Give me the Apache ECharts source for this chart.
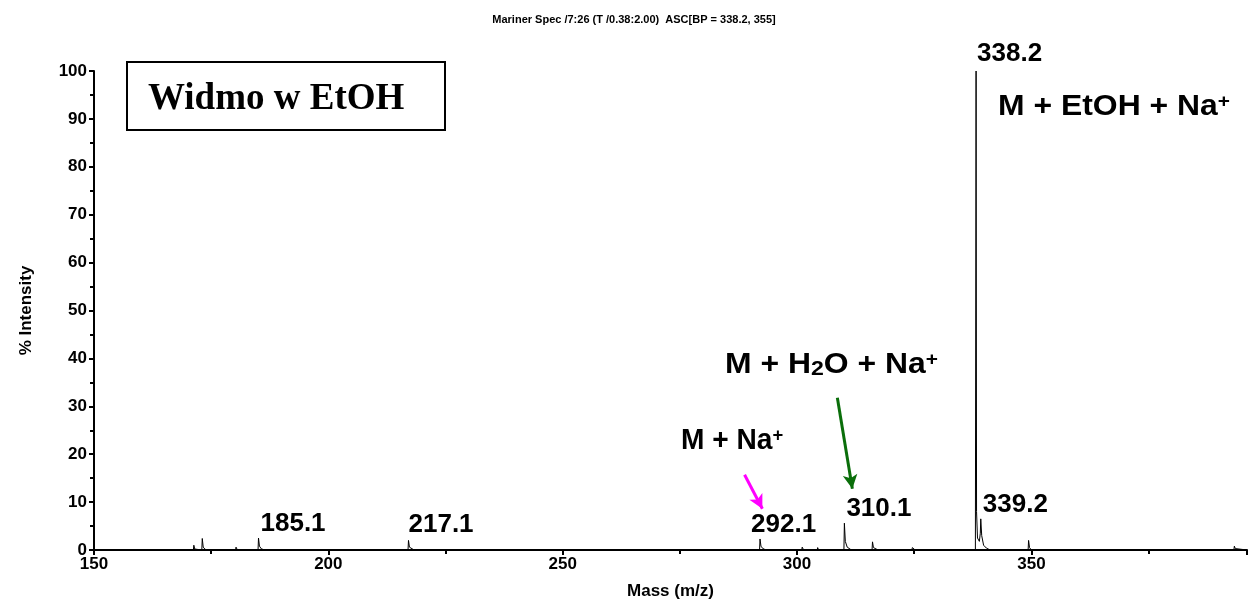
<!DOCTYPE html>
<html>
<head>
<meta charset="utf-8">
<script src="https://cdn.jsdelivr.net/npm/echarts@6/dist/echarts.min.js"></script>
<style>
html,body{margin:0;padding:0;background:#fff;}
#chart{width:1252px;height:599px;}
</style>
</head>
<body>
<div id="chart"></div>
<script>
// ---------- data ----------
const chartTitle = 'Mariner Spec /7:26 (T /0.38:2.00)  ASC[BP = 338.2, 355]';
const xAxisName = 'Mass (m/z)';
const yAxisName = '% Intensity';
const boxLabel = 'Widmo w EtOH';

// spectrum profile points (m/z, % intensity)
const spectrumMz = [
  150,
  171.2,171.3,171.5,171.8,
  173.0,173.1,173.3,173.7,174.3,
  180.2,180.3,180.6,
  185.0,185.1,185.3,185.7,186.4,
  215.4,215.5,215.7,
  217.0,217.1,217.3,217.7,218.3,
  239.2,239.3,239.5,
  261.7,261.8,262.0,
  288.3,288.4,288.6,
  292.0,292.1,292.3,292.7,293.4,
  298.3,298.4,298.6,
  301.0,301.1,301.4,
  303.2,303.3,303.5,
  304.3,304.4,304.6,
  305.3,305.4,305.7,
  310.0,310.1,310.3,310.7,311.6,
  316.0,316.1,316.3,316.7,317.3,
  318.8,318.9,319.1,
  324.5,324.6,324.9,325.2,
  338.05,338.2,338.3,338.5,338.9,339.1,339.2,339.4,339.8,340.4,341.2,
  349.3,349.4,349.6,350.0,
  370.0,370.1,370.3,
  393.2,393.3,393.5,393.9,
  396
];
const spectrumIntensity = [
  0,
  0,1.0,0.2,0,
  0,2.4,0.6,0.15,0,
  0,0.6,0,
  0,2.5,0.8,0.25,0,
  0,0.3,0,
  0,2.0,0.6,0.2,0,
  0,0.2,0,
  0,0.3,0,
  0,0.2,0,
  0,2.3,0.8,0.3,0,
  0,0.3,0,
  0,0.6,0,
  0,0.4,0,
  0,0.5,0,
  0,0.4,0,
  0,5.6,1.8,0.6,0,
  0,1.7,0.5,0.2,0,
  0,0.3,0,
  0,0.5,0.1,0,
  0,100,8,2.5,1.8,3.5,6.5,3,1,0.4,0,
  0,2.0,0.5,0,
  0,0.2,0,
  0,0.8,0.3,0,
  0
];

// labelled peaks
const peakLabelMz        = [185.1, 217.1, 292.1, 310.1, 338.2, 339.2];
const peakLabelIntensity = [2.5,   2.0,   2.3,   5.6,   100,   6.5];
const peakLabelText      = ['185.1','217.1','292.1','310.1','338.2','339.2'];

// arrows (data coordinates: start -> end)
const magentaArrow = [[288.8, 15.7], [292.6, 8.6]];
const greenArrow   = [[308.6, 31.8], [311.8, 12.8]];

// axis ticks
const xMin = 150, xMax = 396, xInterval = 50;
const yMin = 0, yMax = 100, yInterval = 10;

// ---------- styles ----------
const SANS = '"Liberation Sans", Arial, Helvetica, sans-serif';
const SERIF = '"Liberation Serif", "Times New Roman", serif';
const labelOffsets = [[2,-14],[0,-16],[-9,-14],[2,-14],[1,-17],[2,-14]];

const chart = echarts.init(document.getElementById('chart'), null, {renderer:'canvas'});
const spectrum = spectrumMz.map((m, i) => [m, spectrumIntensity[i]]);

chart.setOption({
  animation: false,
  backgroundColor: '#ffffff',
  title: {
    text: chartTitle, left: 629, top: 9, textAlign: 'center',
    textStyle: {fontFamily: SANS, fontSize: 11, fontWeight: 'bold', color: '#000'}
  },
  grid: {left: 94, right: 5, top: 71, bottom: 49, containLabel: false, outerBoundsMode: 'none'},
  xAxis: {
    type: 'value', min: xMin, max: xMax, interval: xInterval,
    name: xAxisName, nameLocation: 'middle', nameGap: 33,
    nameTextStyle: {fontFamily: SANS, fontSize: 17, fontWeight: 'bold', color: '#000'},
    axisLine: {lineStyle: {color: '#000', width: 2}},
    axisTick: {show: true, length: 5, lineStyle: {color: '#000', width: 2}},
    minorTick: {show: true, splitNumber: 2, length: 4, lineStyle: {color: '#000', width: 2}},
    axisLabel: {fontFamily: SANS, fontSize: 17, fontWeight: 'bold', color: '#000', margin: 6, showMaxLabel: false},
    splitLine: {show: false}
  },
  yAxis: {
    type: 'value', min: yMin, max: yMax, interval: yInterval,
    name: yAxisName, nameLocation: 'middle', nameGap: 59, nameRotate: 90,
    nameTextStyle: {fontFamily: SANS, fontSize: 17, fontWeight: 'bold', color: '#000'},
    axisLine: {show: true, lineStyle: {color: '#000', width: 2}},
    axisTick: {show: true, length: 5, lineStyle: {color: '#000', width: 2}},
    minorTick: {show: true, splitNumber: 2, length: 4, lineStyle: {color: '#000', width: 2}},
    axisLabel: {fontFamily: SANS, fontSize: 17, fontWeight: 'bold', color: '#000', margin: 7},
    splitLine: {show: false}
  },
  series: [{
    type: 'line', data: spectrum, showSymbol: false, symbol: 'none', sampling: false,
    lineStyle: {color: '#000', width: 1}, silent: true, z: 3,
    markLine: {
      silent: true, symbol: ['none', 'arrow'], symbolSize: [11, 14],
      label: {show: false},
      data: [
        [{coord: magentaArrow[0], lineStyle: {color: '#ff00ff', width: 3, type: 'solid'}},
         {coord: magentaArrow[1]}],
        [{coord: greenArrow[0], lineStyle: {color: '#0a6e0a', width: 3, type: 'solid'}},
         {coord: greenArrow[1]}]
      ]
    }
  }]
});

function buildGraphics() {
  const g = [];
  // peak labels anchored to peak tops
  peakLabelMz.forEach((m, i) => {
    const p = chart.convertToPixel({gridIndex: 0}, [m, peakLabelIntensity[i]]);
    g.push({
      type: 'text', x: p[0] + labelOffsets[i][0], y: p[1] + labelOffsets[i][1], z: 10,
      style: {text: peakLabelText[i], fontFamily: SANS, fontSize: 26, fontWeight: 'bold',
              fill: '#000', align: 'left', verticalAlign: 'middle'}
    });
  });
  const rich = {
    n: {fontFamily: SANS, fontSize: 29, fontWeight: 'bold', color: '#000'},
    sup: {fontFamily: SANS, fontSize: 19, fontWeight: 'bold', color: '#000', verticalAlign: 'top'},
    sub: {fontFamily: SANS, fontSize: 21, fontWeight: 'bold', color: '#000', verticalAlign: 'bottom', lineHeight: 10}
  };
  g.push({type: 'text', x: 998, y: 107, scaleX: 1.1, z: 10,
    style: {text: '{n|M + EtOH + Na}{sup|+}', rich: rich, align: 'left', verticalAlign: 'middle'}});
  g.push({type: 'text', x: 725, y: 365, scaleX: 1.1, z: 10,
    style: {text: '{n|M + H}{sub|2}{n|O + Na}{sup|+}', rich: rich, align: 'left', verticalAlign: 'middle'}});
  g.push({type: 'text', x: 681, y: 441, scaleX: 0.97, z: 10,
    style: {text: '{n|M + Na}{sup|+}', rich: rich, align: 'left', verticalAlign: 'middle'}});
  // boxed label
  g.push({type: 'rect', shape: {x: 127, y: 62, width: 318, height: 68}, z: 10,
    style: {fill: '#fff', stroke: '#000', lineWidth: 2}});
  g.push({type: 'text', x: 148, y: 99, z: 11,
    style: {text: boxLabel, fontFamily: SERIF, fontSize: 37, fontWeight: 'bold', fill: '#000',
            align: 'left', verticalAlign: 'middle'}});
  chart.setOption({graphic: g});
}
buildGraphics();
</script>
</body>
</html>
